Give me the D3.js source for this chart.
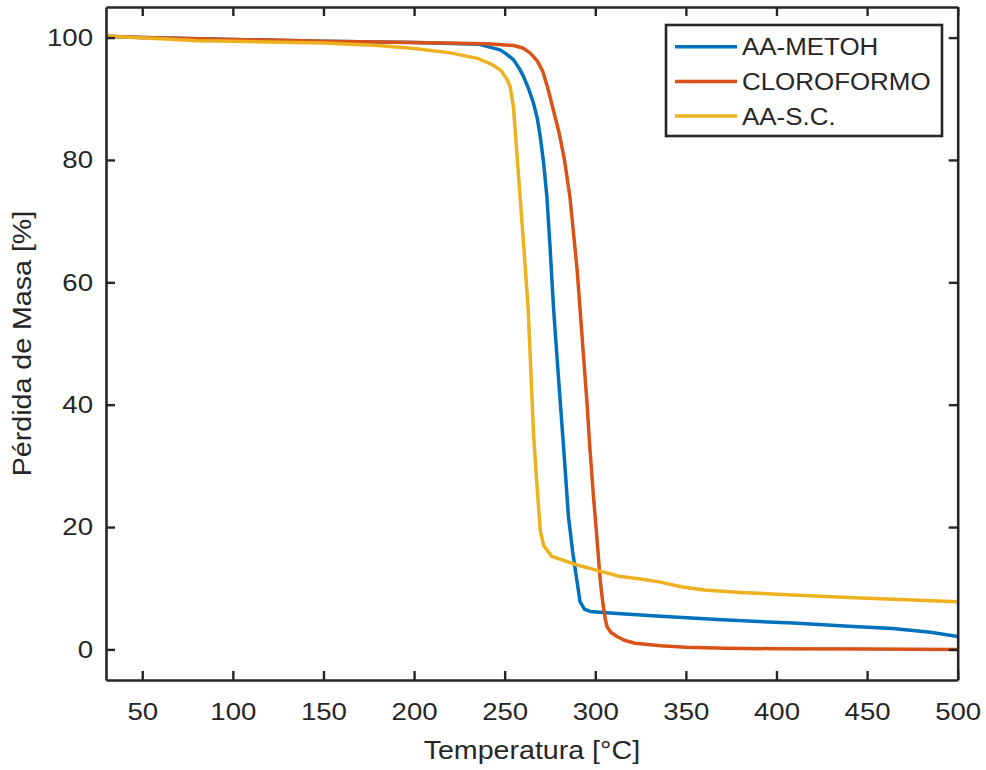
<!DOCTYPE html>
<html>
<head>
<meta charset="utf-8">
<script src="https://cdn.jsdelivr.net/npm/d3@7"></script>
<style>
  html, body { margin: 0; padding: 0; background: #fff; }
  svg { display: block; font-family: "Liberation Sans", Arial, Helvetica, sans-serif; }
</style>
</head>
<body>
<svg id="chart" width="986" height="770"></svg>
<script>
// Thermogravimetric curves: mass (%) versus temperature (°C)
const seriesNames = ["AA-METOH", "CLOROFORMO", "AA-S.C."];
const seriesColors = ["#0072BD", "#D95319", "#EDB120"];

const metohTemp = [30, 50, 100, 150, 200, 236, 247.5, 251, 254.8, 258, 260.3, 263, 265.9, 268, 269.6, 271.5, 273.3, 275, 276.9, 278.7, 280.6, 283, 285.2, 287.5, 289.8, 291.6, 294, 297.2, 310, 336, 370, 409, 440, 464, 485, 500];
const metohMass = [100.2, 100.0, 99.7, 99.4, 99.2, 98.9, 98.0, 97.3, 96.4, 95.0, 93.7, 91.8, 89.3, 86.8, 83.9, 79.5, 74.0, 66.0, 56.1, 48.5, 40.8, 31.0, 21.7, 16.0, 11.4, 7.8, 6.6, 6.2, 5.9, 5.4, 4.85, 4.3, 3.8, 3.4, 2.8, 2.1];

const cloroTemp = [30, 50, 100, 150, 200, 240, 255, 260, 264, 268, 271, 274, 277, 280, 283, 286, 288, 290, 292, 294, 295.5, 297, 299, 300, 301.5, 302.7, 304, 305.5, 306.5, 308.5, 312, 316, 322, 336, 350, 372, 400, 450, 500];
const cloroMass = [100.2, 100.0, 99.7, 99.4, 99.2, 99.0, 98.7, 98.3, 97.5, 96.2, 94.5, 91.5, 88.0, 84.5, 80.0, 74.0, 68.0, 62.0, 54.0, 46.0, 40.0, 33.0, 25.0, 21.5, 16.0, 11.4, 8.0, 5.0, 3.7, 2.8, 2.1, 1.5, 1.0, 0.6, 0.35, 0.2, 0.1, 0.05, 0.0];

const scTemp = [30, 40, 60, 80, 100, 150, 180, 200, 220, 235, 243, 248, 251, 253, 254.8, 256.5, 258.5, 261, 263, 264.5, 265.9, 267.8, 269.6, 271.5, 276, 290, 300, 314, 325, 336, 348, 360, 380, 409, 440, 464, 500];
const scMass = [100.2, 100.1, 99.8, 99.5, 99.4, 99.1, 98.7, 98.2, 97.5, 96.6, 95.6, 94.6, 93.3, 92.0, 88.8, 82.0, 74.0, 64.0, 55.5, 45.0, 35.4, 27.0, 19.5, 17.0, 15.2, 13.8, 13.0, 11.9, 11.5, 11.0, 10.2, 9.7, 9.3, 8.9, 8.5, 8.2, 7.8];

const xTicks = [50, 100, 150, 200, 250, 300, 350, 400, 450, 500];
const yTicks = [0, 20, 40, 60, 80, 100];
const xLabel = "Temperatura [°C]";
const yLabel = "Pérdida de Masa [%]";

const series = [
  { name: seriesNames[0], color: seriesColors[0], temp: metohTemp, mass: metohMass },
  { name: seriesNames[1], color: seriesColors[1], temp: cloroTemp, mass: cloroMass },
  { name: seriesNames[2], color: seriesColors[2], temp: scTemp, mass: scMass }
];

const svg = d3.select("#chart");
const ink = "#262626";
const plot = { left: 106, top: 7, right: 957.7, bottom: 680 };

const x = d3.scaleLinear().domain([30, 500]).range([plot.left, plot.right]);
const y = d3.scaleLinear().domain([-5, 105]).range([plot.bottom, plot.top]);

svg.append("defs").append("clipPath").attr("id", "plotClip")
  .append("rect")
  .attr("x", plot.left).attr("y", plot.top)
  .attr("width", plot.right - plot.left).attr("height", plot.bottom - plot.top);

// Curves
const line = d3.line().x(d => x(d[0])).y(d => y(d[1]));
const curves = svg.append("g").attr("clip-path", "url(#plotClip)");
series.forEach(s => {
  const pts = s.temp.map((t, i) => [t, s.mass[i]]);
  curves.append("path")
    .attr("d", line(pts))
    .attr("fill", "none")
    .attr("stroke", s.color)
    .attr("stroke-width", 3.5)
    .attr("stroke-linejoin", "round");
});

// Axes with inward ticks on all four sides
const tickLen = 9;
const tickFont = 24;
const stretch = 1.15;

function styleAxis(g) {
  g.selectAll("path.domain").attr("stroke", ink).attr("stroke-width", 2.6);
  g.selectAll(".tick line").attr("stroke", ink).attr("stroke-width", 2.4);
  g.selectAll(".tick text").attr("fill", ink).attr("font-size", tickFont);
}

const gBottom = svg.append("g").attr("transform", `translate(0,${plot.bottom})`)
  .call(d3.axisBottom(x).tickValues(xTicks).tickSizeInner(-tickLen).tickSizeOuter(0).tickPadding(23))
  .call(styleAxis);
gBottom.selectAll(".tick text").attr("transform", `scale(${stretch},1)`);

const gLeft = svg.append("g").attr("transform", `translate(${plot.left},0)`)
  .call(d3.axisLeft(y).tickValues(yTicks).tickSizeInner(-tickLen).tickSizeOuter(0).tickPadding(13))
  .call(styleAxis);
gLeft.selectAll(".tick text")
  .attr("x", -13 / stretch)
  .attr("transform", `scale(${stretch},1)`);

svg.append("g").attr("transform", `translate(0,${plot.top})`)
  .call(d3.axisTop(x).tickValues(xTicks).tickSizeInner(-tickLen).tickSizeOuter(0).tickFormat(""))
  .call(styleAxis);

svg.append("g").attr("transform", `translate(${plot.right},0)`)
  .call(d3.axisRight(y).tickValues(yTicks).tickSizeInner(-tickLen).tickSizeOuter(0).tickFormat(""))
  .call(styleAxis);

// Axis titles
svg.append("text")
  .attr("transform", `translate(${(plot.left + plot.right) / 2},759) scale(1.1,1)`)
  .attr("text-anchor", "middle")
  .attr("font-size", 26)
  .attr("fill", ink)
  .text(xLabel);

svg.append("text")
  .attr("transform", `translate(31,${(plot.top + plot.bottom) / 2}) rotate(-90) scale(1.1,1)`)
  .attr("text-anchor", "middle")
  .attr("font-size", 26)
  .attr("fill", ink)
  .text(yLabel);

// Legend
const legend = svg.append("g");
legend.append("rect")
  .attr("x", 666).attr("y", 25).attr("width", 276).attr("height", 111)
  .attr("fill", "#fff").attr("stroke", ink).attr("stroke-width", 2.6);

series.forEach((s, i) => {
  const ly = 46.7 + i * 34.7;
  legend.append("line")
    .attr("x1", 675).attr("x2", 737).attr("y1", ly).attr("y2", ly)
    .attr("stroke", s.color).attr("stroke-width", 3.5);
  legend.append("text")
    .attr("transform", `translate(742,${ly}) scale(1.08,1)`)
    .attr("dy", "0.36em")
    .attr("font-size", 24)
    .attr("fill", ink)
    .text(s.name);
});
</script>
</body>
</html>
